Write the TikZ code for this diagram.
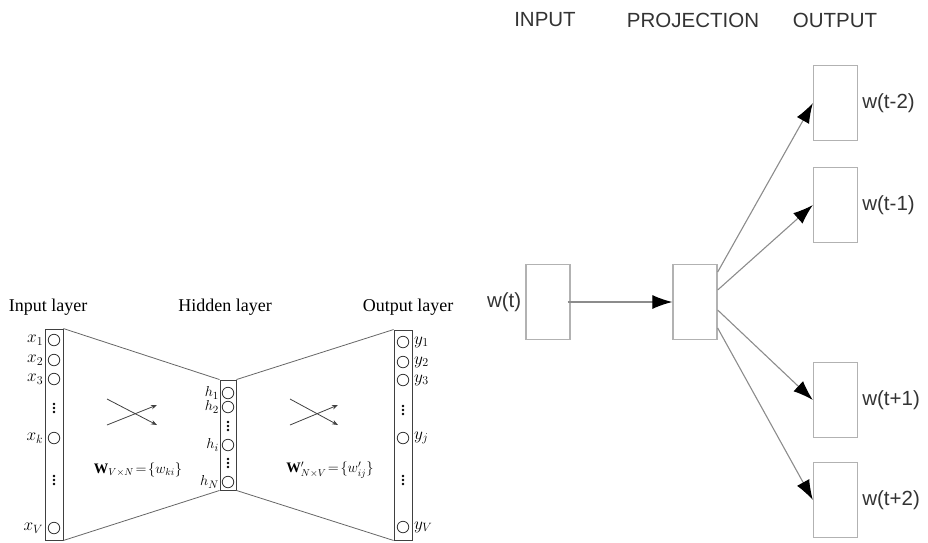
\documentclass[tikz,border=0pt]{standalone}
\usepackage{fontspec}
\setmainfont{Liberation Serif}
\newfontfamily\arialfont{Liberation Sans}
\usetikzlibrary{arrows.meta, positioning}

\begin{document}
\begin{tikzpicture}[
    x=1pt, y=-1pt,
    layer/.style={rectangle, draw=black!75, line width=0.9pt, inner sep=0pt},
    unit/.style={circle, draw=black!80, line width=0.8pt, minimum size=11.5pt, inner sep=0pt},
    lbl/.style={font=\fontsize{17}{19}\selectfont, inner sep=1.5pt},
    hlbl/.style={font=\fontsize{15}{16}\selectfont, inner sep=0.5pt},
    title/.style={font=\fontsize{18}{20}\selectfont},
    wlabel/.style={font=\fontsize{14.5}{16}\selectfont},
    link/.style={draw=black!60, line width=0.8pt},
    cross/.style={-{Stealth[length=6pt, width=4.5pt]}, black!75, line width=0.8pt},
    wbox/.style={rectangle, draw=black!30, line width=1.3pt, minimum width=44pt, minimum height=75pt, inner sep=0pt},
    wtext/.style={font=\arialfont\fontsize{20.5}{22}\selectfont, text=black!80},
    arrow/.style={-{Latex[length=20pt, width=14pt, color=black]}, draw=black!45, line width=1.1pt}
]
\useasboundingbox (0,0) rectangle (928,542);

% ============ LEFT: NETWORK LAYERS ============
\node[title] (t_in) at (48, 307) {Input layer};
\node[title] (t_hid) at (225, 307) {Hidden layer};
\node[title] (t_out) at (408, 307) {Output layer};

\node[layer, minimum width=18pt, minimum height=211pt] (inlayer) at (54, 434.5) {};
\node[layer, minimum width=16pt, minimum height=110pt] (hidlayer) at (228, 435) {};
\node[layer, minimum width=18pt, minimum height=210pt] (outlayer) at (403, 435) {};

% input units
\foreach \name/\y/\txt in {x1/340/x_1, x2/360/x_2, x3/379/x_3, xk/438/x_k, xv/528/x_V} {
    \node[unit] (\name) at (54, \y) {};
    \node[lbl, left=3pt of \name] {$\txt$};
}
% hidden units
\foreach \name/\y/\txt in {h1/393/h_1, h2/407/h_2, hi/445/h_i, hn/482/h_N} {
    \node[unit] (\name) at (228, \y) {};
    \node[hlbl, anchor=east] at (hidlayer.west |- \name) {$\txt$};
}
% output units
\foreach \name/\y/\txt in {y1/342/y_1, y2/362/y_2, y3/380/y_3, yj/438/y_j, yv/527/y_V} {
    \node[unit] (\name) at (403, \y) {};
    \node[lbl, anchor=west] at (outlayer.east |- \name) {$\txt$};
}

% vertical dots
\foreach \x/\y in {54/408, 54/480, 228/426, 228/463, 403/410, 403/480} {
    \foreach \d in {-4, 0, 4}
        \fill (\x, \y + \d) circle (1.3pt);
}

% links between layers
\draw[link] (inlayer.north east) -- (hidlayer.north west);
\draw[link] (inlayer.south east) -- (hidlayer.south west);
\draw[link] (hidlayer.north east) -- (outlayer.north west);
\draw[link] (hidlayer.south east) -- (outlayer.south west);

% crossing arrows
\coordinate (c1a) at (107, 399);
\coordinate (c1b) at (157, 425);
\coordinate (c1c) at (107, 425);
\coordinate (c1d) at (157, 405);
\draw[cross] (c1a) -- (c1b);
\draw[cross] (c1c) -- (c1d);
\coordinate (c2a) at (290, 399);
\coordinate (c2b) at (338, 425);
\coordinate (c2c) at (290, 425);
\coordinate (c2d) at (338, 405);
\draw[cross] (c2a) -- (c2b);
\draw[cross] (c2c) -- (c2d);

% weight matrices
\node[wlabel] (w_in) at (138, 470) {$\mathbf{W}_{V\times N}\!=\!\{w_{ki}\}$};
\node[wlabel] (w_out) at (330, 470) {$\mathbf{W}'_{N\times V}\!=\!\{w'_{ij}\}$};

% ============ RIGHT: SKIP-GRAM ============
\node[wtext] (h_input) at (545, 20) {INPUT};
\node[wtext] (h_proj) at (693, 20) {PROJECTION};
\node[wtext] (h_output) at (835, 20) {OUTPUT};

\node[wbox] (inbox) at (548, 302) {};
\node[wbox] (proj) at (695, 302) {};
\node[wtext, left=4pt of inbox, inner sep=0pt] (w_t) {w(t)};

\node[wbox] (om2) at (835.5, 103) {};
\node[wbox] (om1) at (835.5, 205) {};
\node[wbox] (op1) at (835.5, 400) {};
\node[wbox] (op2) at (835.5, 500) {};
\node[wtext, right=4pt of om2, inner sep=0pt] {w(t-2)};
\node[wtext, right=4pt of om1, inner sep=0pt] {w(t-1)};
\node[wtext, right=4pt of op1, inner sep=0pt] {w(t+1)};
\node[wtext, right=4pt of op2, inner sep=0pt] {w(t+2)};

% arrows
\draw[arrow] ([xshift=-3pt]inbox.east) -- (proj.west);
\draw[arrow] ([yshift=30pt]proj.east) -- (om2.west);
\draw[arrow] ([yshift=12pt]proj.east) -- (om1.west);
\draw[arrow] ([yshift=-8pt]proj.east) -- (op1.west);
\draw[arrow] ([yshift=-26pt]proj.east) -- (op2.west);

\end{tikzpicture}
\end{document}
